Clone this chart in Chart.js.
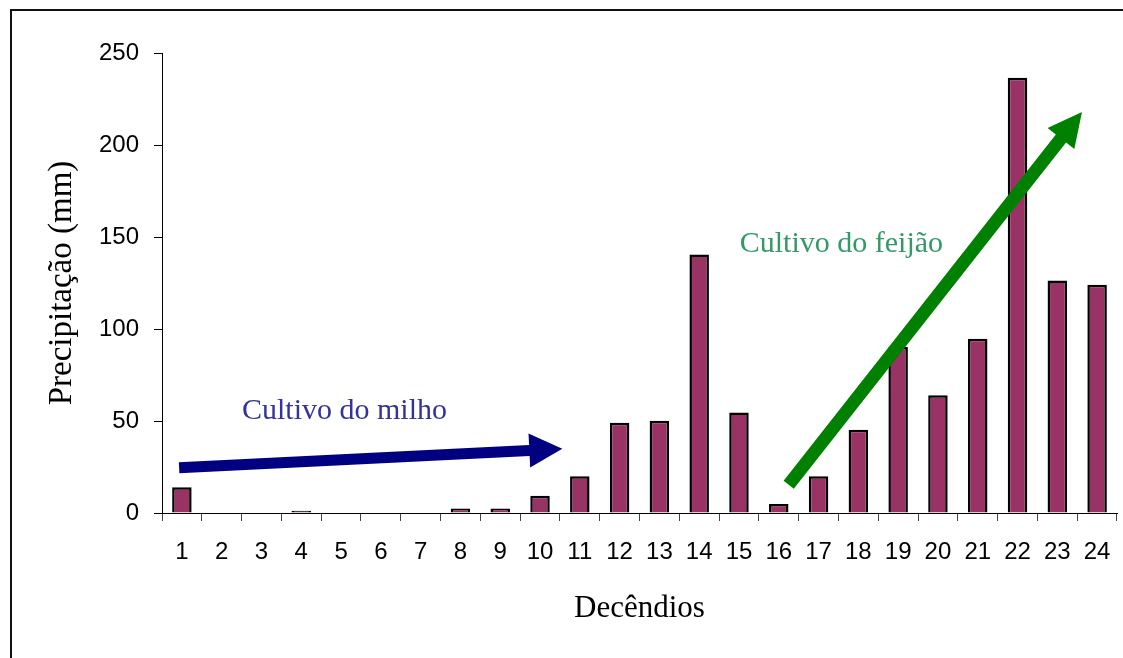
<!DOCTYPE html>
<html>
<head>
<meta charset="utf-8">
<script src="https://cdn.jsdelivr.net/npm/chart.js@4"></script>
<style>
  html, body { margin: 0; padding: 0; background: #fff; overflow: hidden; }
  #wrap { position: relative; width: 1123px; height: 658px; }
  #frame { position: absolute; left: 10px; top: 9px; width: 1200px; height: 700px;
           border-left: 2px solid #111; border-top: 2px solid #111; }
  #myChart { position: absolute; left: 0; top: 0; }
</style>
</head>
<body>
<div id="wrap">
  <div id="frame"></div>
  <canvas id="myChart" width="1123" height="658"></canvas>
</div>
<script>
const cts = document.querySelector('#myChart').getContext('2d');

const labels = ['1', '2', '3', '4', '5', '6', '7', '8', '9', '10', '11', '12',
    '13', '14', '15', '16', '17', '18', '19', '20', '21', '22', '23', '24'];

const precipitacao = [14, 0, 0, 1.2, 0, 0, 0, 2.5, 2.5, 9.4, 20, 49,
    50.2, 140.5, 54.6, 4.9, 20, 45.3, 90.2, 64, 94.7, 236.5, 126.4, 124.1];

const yTicks = [0, 50, 100, 150, 200, 250];

// arrows + texts, in data coordinates (category index, mm)
const arrows = [
    { from: [-0.07, 24.6], to: [9.56, 34.9], color: '#000080', w: 11, hw: 34, hl: 33 },
    { from: [15.25, 15.4], to: [22.62, 218], color: '#008000', w: 13, hw: 34, hl: 34 },
];
const notes = [
    { text: 'Cultivo do milho', at: [1.51, 51.2], color: '#333399' },
    { text: 'Cultivo do feijão', at: [14.02, 142], color: '#339966' },
];

const arrowPlugin = {
    id: 'arrows',
    afterDatasetsDraw(chart) {
        const ctx = chart.ctx;
        const xs = chart.scales.x, ys = chart.scales.y;
        ctx.save();
        notes.forEach(n => {
            ctx.font = '30px "Liberation Serif", "Times New Roman", serif';
            ctx.fillStyle = n.color;
            ctx.textAlign = 'left';
            ctx.textBaseline = 'alphabetic';
            ctx.fillText(n.text, xs.getPixelForValue(n.at[0]), ys.getPixelForValue(n.at[1]));
        });
        arrows.forEach(a => {
            const x0 = xs.getPixelForValue(a.from[0]), y0 = ys.getPixelForValue(a.from[1]);
            const x1 = xs.getPixelForValue(a.to[0]), y1 = ys.getPixelForValue(a.to[1]);
            const len = Math.hypot(x1 - x0, y1 - y0);
            ctx.save();
            ctx.translate(x0, y0);
            ctx.rotate(Math.atan2(y1 - y0, x1 - x0));
            ctx.beginPath();
            ctx.moveTo(0, -a.w / 2);
            ctx.lineTo(len - a.hl, -a.w / 2);
            ctx.lineTo(len - a.hl, -a.hw / 2);
            ctx.lineTo(len, 0);
            ctx.lineTo(len - a.hl, a.hw / 2);
            ctx.lineTo(len - a.hl, a.w / 2);
            ctx.lineTo(0, a.w / 2);
            ctx.closePath();
            ctx.fillStyle = a.color;
            ctx.fill();
            ctx.restore();
        });
        ctx.restore();
    }
};

const data = {
    labels,
    datasets: [
        {
            data: precipitacao,
            backgroundColor: '#993366',
            borderColor: '#000',
            borderWidth: 2.5,
            barPercentage: 0.49,
            categoryPercentage: 1,
        },
    ],
}

const config = {
    type: 'bar',
    data: data,
    plugins: [arrowPlugin],
    options: {
        responsive: false,
        animation: false,
        devicePixelRatio: 1,
        layout: { padding: { top: 53, right: 6, left: 0, bottom: 0 } },
        plugins: { legend: { display: false }, tooltip: { enabled: false } },
        scales: {
            x: {
                afterFit: s => { s.height = 145; s.paddingLeft = 0; s.paddingRight = 0; },
                grid: { drawOnChartArea: false, color: '#000', tickLength: 8, tickColor: '#444' },
                border: { display: true, color: '#000', width: 1 },
                ticks: {
                    color: '#000', padding: 17, maxRotation: 0, autoSkip: false,
                    font: { family: '"Liberation Sans", Arial, sans-serif', size: 24 }
                },
                title: {
                    display: true, text: 'Decêndios', color: '#000',
                    font: { family: '"Liberation Serif", "Times New Roman", serif', size: 31 },
                    padding: { top: 0, bottom: 31 }
                }
            },
            y: {
                min: 0,
                max: 250,
                afterFit: s => { s.width = 162; },
                afterBuildTicks: s => { s.ticks = yTicks.map(v => ({ value: v })); },
                grid: { drawOnChartArea: false, color: '#000', tickLength: 8 },
                border: { display: true, color: '#000', width: 1 },
                ticks: {
                    color: '#000', padding: 15,
                    font: { family: '"Liberation Sans", Arial, sans-serif', size: 24 }
                },
                title: {
                    display: true, text: 'Precipitação (mm)', color: '#000',
                    font: { family: '"Liberation Serif", "Times New Roman", serif', size: 33 },
                    padding: { top: 43, bottom: 0 }
                }
            }
        }
    }
}

const myChart = new Chart(cts, config);
</script>
</body>
</html>
